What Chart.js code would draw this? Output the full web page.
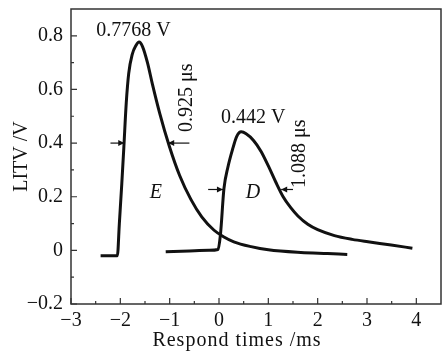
<!DOCTYPE html>
<html lang="en">
<head>
<meta charset="UTF-8">
<title>LITV response</title>
<script src="https://cdn.jsdelivr.net/npm/chart.js"></script>
<style>
  html, body { margin: 0; padding: 0; background: #fff; }
  canvas { display: block; }
</style>
</head>
<body>
<canvas id="chart" width="446" height="352"></canvas>
<script>
// curve E (ms, V)
const eTimes = [-2.40, -2.25, -2.06, -2.02, -1.97, -1.93, -1.88, -1.83, -1.76, -1.68, -1.62, -1.55, -1.45, -1.35, -1.20, -1.01, -0.80, -0.57, -0.35, -0.10, 0.10, 0.30, 0.65, 1.00, 1.66, 2.20, 2.60];
const eVolts = [-0.02, -0.02, -0.02, 0.10, 0.25, 0.38, 0.55, 0.66, 0.73, 0.765, 0.777, 0.76, 0.70, 0.62, 0.51, 0.39, 0.28, 0.19, 0.125, 0.075, 0.05, 0.032, 0.014, 0.002, -0.008, -0.012, -0.015];

// curve D (ms, V)
const dTimes = [-1.08, -0.60, -0.20, -0.02, 0.03, 0.10, 0.18, 0.28, 0.36, 0.45, 0.55, 0.70, 0.85, 1.00, 1.15, 1.30, 1.45, 1.60, 1.80, 2.00, 2.34, 2.70, 3.02, 3.49, 3.92];
const dVolts = [-0.005, -0.002, 0.0, 0.003, 0.06, 0.23, 0.31, 0.38, 0.425, 0.442, 0.435, 0.41, 0.37, 0.315, 0.255, 0.20, 0.16, 0.128, 0.097, 0.077, 0.055, 0.041, 0.032, 0.02, 0.008];

const xTicks = [-3, -2, -1, 0, 1, 2, 3, 4];
const yTicks = [-0.2, 0, 0.2, 0.4, 0.6, 0.8];

// annotations, in data units
const peakLabels = [
  { text: '0.7768 V', x: -2.49, y: 0.818 },
  { text: '0.442 V', x: 0.04, y: 0.493 }
];
const widthLabels = [
  { text: '0.925 \u03bcs', x: -0.65, y: 0.569 },
  { text: '1.088 \u03bcs', x: 1.64, y: 0.36 }
];
const curveNames = [
  { text: 'E', x: -1.28, y: 0.216 },
  { text: 'D', x: 0.69, y: 0.216 }
];
const fwhmArrows = [
  { y: 0.40, from: -2.20, to: -1.92 },
  { y: 0.40, from: -0.60, to: -1.03 },
  { y: 0.227, from: -0.22, to: 0.08 },
  { y: 0.227, from: 1.50, to: 1.26 }
];
const xTitle = 'Respond times /ms';

const FONT = '"Liberation Serif", "Times New Roman", serif';
const INK = '#111';

function toPoints(xs, ys) {
  return xs.map((x, i) => ({ x: x, y: ys[i] }));
}

const decorations = {
  id: 'decorations',
  afterDraw(chart) {
    const ctx = chart.ctx;
    const a = chart.chartArea;
    const xs = chart.scales.x, ys = chart.scales.y;
    ctx.save();
    // frame
    ctx.strokeStyle = '#333';
    ctx.lineWidth = 1.5;
    ctx.strokeRect(a.left, a.top, a.right - a.left, a.bottom - a.top);

    // inward ticks
    ctx.lineWidth = 1.2;
    ctx.beginPath();
    xTicks.forEach(v => {
      const px = xs.getPixelForValue(v);
      ctx.moveTo(px, a.bottom); ctx.lineTo(px, a.bottom - 6);
      const mx = xs.getPixelForValue(v + 0.5);
      if (mx < a.right - 1) { ctx.moveTo(mx, a.bottom); ctx.lineTo(mx, a.bottom - 3); }
    });
    yTicks.forEach(v => {
      const py = ys.getPixelForValue(v);
      ctx.moveTo(a.left, py); ctx.lineTo(a.left + 6, py);
      const my = ys.getPixelForValue(v + 0.1);
      if (my > a.top + 1) { ctx.moveTo(a.left, my); ctx.lineTo(a.left + 3, my); }
    });
    ctx.stroke();

    // arrows
    ctx.strokeStyle = INK;
    ctx.fillStyle = INK;
    ctx.lineWidth = 1.2;
    fwhmArrows.forEach(ar => {
      const py = ys.getPixelForValue(ar.y);
      const x0 = xs.getPixelForValue(ar.from), x1 = xs.getPixelForValue(ar.to);
      const dir = Math.sign(x1 - x0);
      ctx.beginPath();
      ctx.moveTo(x0, py); ctx.lineTo(x1, py);
      ctx.stroke();
      ctx.beginPath();
      ctx.moveTo(x1, py);
      ctx.lineTo(x1 - dir * 6, py - 3);
      ctx.lineTo(x1 - dir * 6, py + 3);
      ctx.closePath();
      ctx.fill();
    });

    // labels
    ctx.font = '20px ' + FONT;
    ctx.textBaseline = 'middle';
    ctx.textAlign = 'left';
    peakLabels.forEach(l => {
      ctx.fillText(l.text, xs.getPixelForValue(l.x), ys.getPixelForValue(l.y));
    });
    ctx.textAlign = 'center';
    widthLabels.forEach(l => {
      ctx.save();
      ctx.translate(xs.getPixelForValue(l.x), ys.getPixelForValue(l.y));
      ctx.rotate(-Math.PI / 2);
      ctx.fillText(l.text, 0, 0);
      ctx.restore();
    });
    ctx.font = 'italic 20px ' + FONT;
    curveNames.forEach(l => {
      ctx.fillText(l.text, xs.getPixelForValue(l.x), ys.getPixelForValue(l.y));
    });

    // x axis title (sits a bit left of the plot centre in the original)
    ctx.font = '20px ' + FONT;
    ctx.letterSpacing = '1px';
    ctx.fillText(xTitle, (a.left + a.right) / 2 - 19, chart.height - 11);
    ctx.restore();
  }
};

const lineStyle = {
  borderColor: INK,
  borderWidth: 3,
  pointRadius: 0,
  fill: false,
  cubicInterpolationMode: 'monotone'
};

new Chart(document.getElementById('chart'), {
  type: 'line',
  data: {
    datasets: [
      Object.assign({ label: 'E', data: toPoints(eTimes, eVolts) }, lineStyle),
      Object.assign({ label: 'D', data: toPoints(dTimes, dVolts) }, lineStyle)
    ]
  },
  options: {
    responsive: false,
    animation: false,
    layout: { padding: { top: 9, right: 5, left: 0, bottom: 0 } },
    plugins: { legend: { display: false }, tooltip: { enabled: false } },
    scales: {
      x: {
        type: 'linear',
        min: -3,
        max: 4.5,
        grid: { display: false, drawTicks: false },
        border: { display: false },
        afterBuildTicks: axis => { axis.ticks = xTicks.map(v => ({ value: v })); },
        afterFit: axis => { axis.height = 48; axis.paddingLeft = 0; axis.paddingRight = 0; },
        ticks: {
          color: INK,
          padding: 5,
          font: { family: FONT, size: 20 },
          callback: v => String(v).replace('-', '\u2212')
        }
      },
      y: {
        min: -0.2,
        max: 0.9,
        grid: { display: false, drawTicks: false },
        border: { display: false },
        afterBuildTicks: axis => { axis.ticks = yTicks.map(v => ({ value: v })); },
        afterFit: axis => { axis.width = 71; axis.paddingTop = 0; axis.paddingBottom = 0; },
        ticks: {
          color: INK,
          padding: 8,
          font: { family: FONT, size: 20 },
          callback: v => (Math.abs(v) < 1e-9 ? '0' : v.toFixed(1)).replace('-', '\u2212')
        },
        title: {
          display: true,
          text: 'LITV /V',
          color: INK,
          padding: { top: 10, bottom: 0 },
          font: { family: FONT, size: 20 }
        }
      }
    }
  },
  plugins: [decorations]
});
</script>
</body>
</html>
